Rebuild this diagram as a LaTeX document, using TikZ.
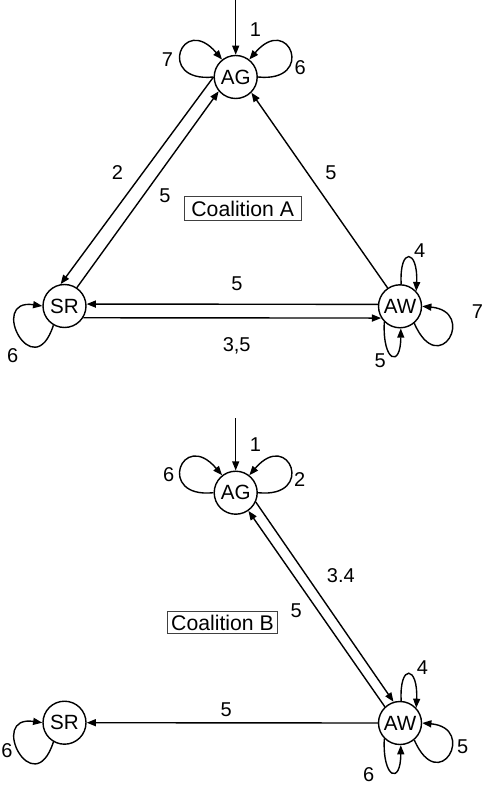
\documentclass[tikz,border=0pt]{standalone}
\usepackage{fontspec}
\setmainfont{Liberation Sans}
\usetikzlibrary{arrows.meta}
\begin{document}
\begin{tikzpicture}[x=0.5pt,y=-0.5pt,
  state/.style={circle,draw,line width=0.7pt,minimum size=21.5pt,inner sep=0pt,
    font=\fontsize{10.3}{12}\selectfont},
  lbl/.style={inner sep=0pt,text depth=0pt,font=\fontsize{10}{12}\selectfont},
  coal/.style={draw=black!75,line width=0.65pt,inner sep=0pt,
    font=\fontsize{10.6}{12}\selectfont},
  edge/.style={line width=0.7pt,-{Triangle[length=4.6pt,width=3.5pt]}},
]
\useasboundingbox (0,0) rectangle (484,785);

% ---------- Coalition A ----------
\node[state] (AGa) at (235.7,77) {AG};
\node[state] (SRa) at (64.5,306) {SR};
\node[state] (AWa) at (400,306.3) {AW};
\coordinate (inA) at (235.7,0);

\draw[edge] (inA) -- (AGa);
\draw[edge] (AGa.180) .. controls +(-58,6) and +(-40,-47) .. (AGa.128);
\draw[edge] (AGa.0) .. controls +(58,6) and +(40,-47) .. (AGa.52);

\draw[edge] (AGa.180) -- (SRa.100);
\draw[edge] (SRa.56) -- (AGa.220);
\draw[edge] (AWa.124) -- (AGa.-45);
\draw[edge] (AWa.175) -- (SRa.5);
\draw[edge] (SRa.-32) -- (AWa.212);

\draw[edge] (SRa.240) .. controls +(-20,62) and +(-55,-8) .. (SRa.180);
\draw[edge] (AWa.87) .. controls +(-2,-38) and +(2,-42) .. (AWa.43);
\draw[edge] (AWa.-50) .. controls +(25,57) and +(55,5) .. (AWa.0);
\draw[edge] (AWa.225) .. controls +(-2,40) and +(0,40) .. (AWa.272);

\node[lbl] (la1) at (255.5,29.3) {1};
\node[lbl] (la7) at (167.5,59.7) {7};
\node[lbl] (la6) at (300.3,67.5) {6};
\node[lbl] (la2) at (117.5,172.3) {2};
\node[lbl] (la5a) at (165,195.7) {5};
\node[lbl] (la5b) at (331,172.3) {5};
\node[lbl] (la5c) at (237,283.3) {5};
\node[lbl] (la35) at (236.7,344.2) {3,5};
\node[lbl] (la6s) at (12.8,355.3) {6};
\node[lbl] (la4) at (419.8,251) {4};
\node[lbl] (la5d) at (380.3,360.3) {5};
\node[lbl] (la7w) at (477.5,311.7) {7};

\node[coal,minimum width=58.5pt,minimum height=12pt] (coalA) at (242.7,208.7) {Coalition A};

% ---------- Coalition B ----------
\node[state] (AGb) at (235.7,492.7) {AG};
\node[state] (SRb) at (64.5,722.7) {SR};
\node[state] (AWb) at (400,723) {AW};
\coordinate (inB) at (235.7,418);

\draw[edge] (inB) -- (AGb);
\draw[edge] (AGb.180) .. controls +(-58,6) and +(-40,-47) .. (AGb.128);
\draw[edge] (AGb.0) .. controls +(58,6) and +(40,-47) .. (AGb.52);

\draw[edge] (AWb.133) -- (AGb.305);
\draw[edge] (AGb.335) -- (AWb.107);
\draw[edge] (AWb.180) -- (SRb.0);

\draw[edge] (SRb.240) .. controls +(-20,62) and +(-55,-8) .. (SRb.180);
\draw[edge] (AWb.87) .. controls +(-2,-38) and +(2,-42) .. (AWb.43);
\draw[edge] (AWb.-50) .. controls +(25,57) and +(55,5) .. (AWb.0);
\draw[edge] (AWb.225) .. controls +(-2,40) and +(0,40) .. (AWb.272);

\node[lbl] (lb1) at (255.5,445) {1};
\node[lbl] (lb6) at (168.7,474.3) {6};
\node[lbl] (lb2) at (299.7,479.3) {2};
\node[lbl] (lb34) at (340.8,575.3) {3.4};
\node[lbl] (lb5a) at (296.3,610.7) {5};
\node[lbl] (lb5b) at (226.2,710) {5};
\node[lbl] (lb6s) at (7,750.8) {6};
\node[lbl] (lb4) at (422.5,667.7) {4};
\node[lbl] (lb5c) at (462.8,746.7) {5};
\node[lbl] (lb6w) at (368.7,775) {6};

\node[coal,minimum width=55pt,minimum height=10.8pt] (coalB) at (222.5,622.5) {Coalition B};
\end{tikzpicture}
\end{document}
